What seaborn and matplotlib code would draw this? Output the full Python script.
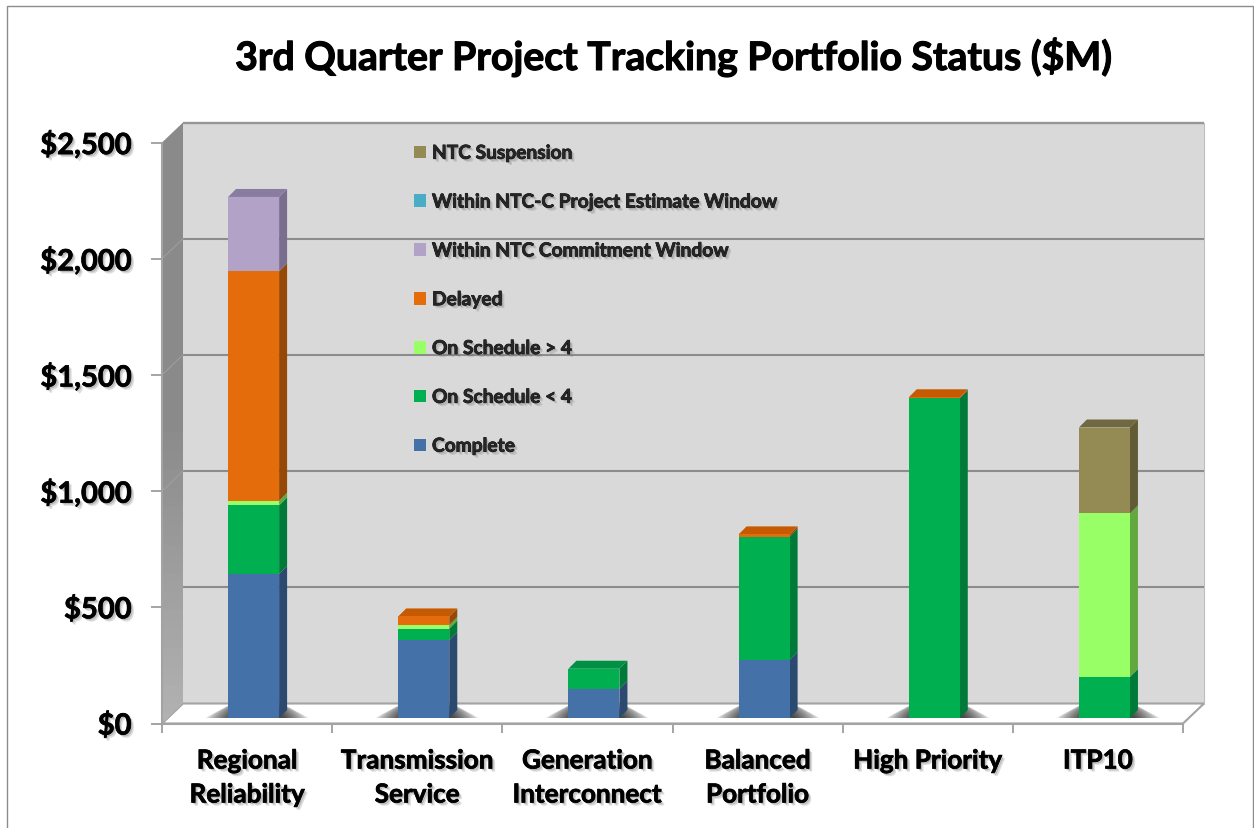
import numpy as np
import pandas as pd
import matplotlib
matplotlib.use("Agg")
import matplotlib.pyplot as plt
import matplotlib.patheffects as pe
from matplotlib.colors import LinearSegmentedColormap
from matplotlib.patches import Patch, Polygon, Rectangle
from matplotlib.transforms import Affine2D
import seaborn as sns

# data ($M)
categories = ["Regional\nReliability", "Transmission\nService", "Generation\nInterconnect",
              "Balanced\nPortfolio", "High Priority", "ITP10"]
complete = [620, 335, 125, 250, 0, 0]
on_sched_lt4 = [295, 50, 87, 530, 1375, 177]
on_sched_gt4 = [20, 15, 0, 0, 0, 703]
delayed = [987, 37, 0, 10, 5, 0]
within_commit = [320, 0, 0, 0, 0, 0]
within_est = [0, 0, 0, 0, 0, 0]
ntc_susp = [0, 0, 0, 0, 0, 370]

series_names = ["Complete", "On Schedule < 4", "On Schedule > 4", "Delayed",
                "Within NTC Commitment Window", "Within NTC-C Project Estimate Window",
                "NTC Suspension"]
series_vals = [complete, on_sched_lt4, on_sched_gt4, delayed, within_commit, within_est, ntc_susp]
front_cols = ["#4472a8", "#00b050", "#99ff66", "#e46c0a", "#b3a2c7", "#4bacc6", "#948a54"]
side_cols = ["#2c4a70", "#007a38", "#62a83f", "#964807", "#7a6e8f", "#2f7a8f", "#615b36"]
top_cols = ["#38608f", "#009044", "#7fd455", "#c55a00", "#8a7ca0", "#3b90a8", "#706840"]

W, H = 1254, 829
sns.set_theme(style="white")
plt.rcParams["font.family"] = ["Lato", "DejaVu Sans"]
plt.rcParams["font.weight"] = "bold"

fig = plt.figure(figsize=(W / 100, H / 100), dpi=100, facecolor="white")
ax = fig.add_axes([162 / W, 1 - 724.5 / H, 1021 / W, 581 / H])
ax.patch.set_visible(False)

# pixel -> data sizes
ux = 6 / 1021
uy = 2500 / 581
wall_dx, wall_dy = 21 * ux, 20 * uy
x0, x1 = -0.5, 5.5
grey = "#a3a3a3"
base_px = 5.5

df = pd.DataFrame(dict(zip(series_names, series_vals)))
df["cat"] = categories
cum = df[series_names].cumsum(axis=1)

# stacked look: tallest cumulative first, each lower series painted on top
bar_tf = Affine2D().translate(6.5, base_px)
for name, col in reversed(list(zip(series_names, front_cols))):
    sns.barplot(x=df["cat"], y=cum[name], color=col, saturation=1, width=0.3, ax=ax,
                order=categories, errorbar=None, zorder=4, linewidth=0,
                transform=ax.transData + bar_tf)

ax.set_xlim(x0, x1)
ax.set_ylim(0, 2500)
ax.set_xlabel("")
ax.set_ylabel("")

# back wall and floor
ax.add_patch(Rectangle((x0 + wall_dx, wall_dy), x1 - x0, 2500, fc="#d9d9d9", ec="none",
                       zorder=1, clip_on=False))
ax.plot([x0 + wall_dx, x1 + wall_dx], [2500 + wall_dy] * 2, color="#969696", lw=1.7, zorder=2,
        clip_on=False, solid_capstyle="butt")
ax.plot([x1 + wall_dx] * 2, [wall_dy, 2500 + wall_dy], color="#bdbdbd", lw=0.8, zorder=2, clip_on=False)
ax.add_patch(Polygon([(x0, 0), (x1, 0), (x1 + wall_dx, wall_dy), (x0 + wall_dx, wall_dy)],
                     fc="white", ec=grey, lw=1.5, zorder=1.5, clip_on=False))
# left wall with a gradient
wall = Polygon([(x0, 0), (x0 + wall_dx, wall_dy), (x0 + wall_dx, 2500 + wall_dy), (x0, 2500)],
               fc="none", ec="none", zorder=1.6, clip_on=False)
ax.add_patch(wall)
wall_cmap = LinearSegmentedColormap.from_list("w", ["#b2b2b2", "#8a8a8a", "#8a8a8a"])
im = ax.imshow(np.linspace(0, 1, 64).reshape(-1, 1), cmap=wall_cmap, origin="lower", aspect="auto",
               zorder=1.6, vmin=0, vmax=1, extent=(x0, x0 + wall_dx, 0, 2500 + wall_dy))
im.set_clip_box(fig.bbox)
im.set_clip_path(wall)

# gridlines on the back wall, small diagonals on the left wall
yticks = [0, 500, 1000, 1500, 2000, 2500]
for v in yticks[1:-1]:
    ax.plot([x0 + wall_dx, x1 + wall_dx], [v + wall_dy] * 2, color="#8c8c8c", lw=1.5, zorder=2,
            clip_on=False, solid_capstyle="butt")
    ax.plot([x0, x0 + wall_dx], [v, v + wall_dy], color="#a0a0a0", lw=0.7, zorder=2, clip_on=False)

# shadows at the foot of the bars, wedge shaped and fading outwards
sh = np.zeros((40, 160, 4))
yy, xx = np.mgrid[0:1:40j, -1:1:160j]
reach = np.clip((1 - np.abs(xx)) / 0.5, 0.001, 1)
sh[..., :3] = 0.2
sh[..., 3] = 0.9 * reach ** 0.7 * np.clip(1 - yy / reach, 0, 1) ** 0.25
for i in range(len(categories)):
    cx = i + 6.5 * ux + 3.5 * ux
    ax.imshow(sh, origin="lower", aspect="auto", zorder=2.5,
              extent=(cx - 52 * ux, cx + 52 * ux, base_px * uy, 19 * uy))

# side and top faces of the bars
bw, bd = 0.15, 8
for i in range(len(categories)):
    xr = i + 6.5 * ux + bw
    xl = i + 6.5 * ux - bw
    base = base_px * uy
    tops = cum.iloc[i].values
    low = 0
    top_col = None
    for j, name in enumerate(series_names):
        hi = tops[j]
        if hi > low:
            ax.add_patch(Polygon([(xr, low + base), (xr + bd * ux, low + base + bd * uy),
                                  (xr + bd * ux, hi + base + bd * uy), (xr, hi + base)],
                                 fc=side_cols[j], ec="none", zorder=3.5, clip_on=False))
            top_col = top_cols[j]
        low = hi
    ax.add_patch(Polygon([(xl, low + base), (xr, low + base), (xr + bd * ux, low + base + bd * uy),
                          (xl + bd * ux, low + base + bd * uy)], fc=top_col, ec="none",
                         zorder=3.5, clip_on=False))

ax.set_xlim(x0, x1)
ax.set_ylim(0, 2500)

# axes
for s in ["top", "right"]:
    ax.spines[s].set_visible(False)
for s in ["left", "bottom"]:
    ax.spines[s].set_color(grey)
    ax.spines[s].set_linewidth(1.5)
    ax.spines[s].set_zorder(2.2)
ax.set_yticks(yticks, [f"${v:,}" for v in yticks])
ax.tick_params(axis="y", length=8, width=1.1, color="#8c8c8c", pad=14, labelsize=21, left=True)
ax.set_xticks(range(len(categories)), categories)
ax.set_xticks(np.arange(x0, x1 + 0.1, 1), minor=True)
ax.tick_params(axis="x", which="major", length=0, pad=18, labelsize=18.8)
ax.tick_params(axis="x", which="minor", length=6.5, width=1.1, color="#8c8c8c", bottom=True)
shadow = [pe.SimplePatchShadow(offset=(2.2, -2.2), shadow_rgbFace="#777777", alpha=0.25),
          pe.SimplePatchShadow(offset=(1.2, -1.2), shadow_rgbFace="#777777", alpha=0.35),
          pe.Stroke(linewidth=0.5, foreground="black"), pe.Normal()]
for t in ax.get_xticklabels() + ax.get_yticklabels():
    t.set_fontweight("bold")
    t.set_color("black")
    t.set_linespacing(1.5)
    t.set_path_effects(shadow)

# legend
handles = [Patch(fc=c, ec="none") for c in front_cols[::-1]]
leg = fig.legend(handles, series_names[::-1], loc="upper left", frameon=False,
                 bbox_to_anchor=(408 / W, 1 - 140 / H), bbox_transform=fig.transFigure,
                 fontsize=13.8, labelspacing=1.66, handlelength=0.65, handleheight=0.65,
                 handletextpad=0.3, borderpad=0.3, borderaxespad=0)
for t in leg.get_texts():
    t.set_fontweight("bold")
    t.set_path_effects(shadow)

title = fig.text(673 / W, 1 - 58 / H, "3rd Quarter Project Tracking Portfolio Status ($M)",
                 ha="center", va="center", fontsize=28.2, fontweight="bold", color="black")
title.set_path_effects([pe.Stroke(linewidth=0.8, foreground="black"), pe.Normal()])

# outer border, open at the bottom of the picture
fig.add_artist(Rectangle((7 / W, -0.01), (W - 8) / W, 1 - 7 / H + 0.01, fill=False,
                         ec="#8c8c8c", lw=1.0, transform=fig.transFigure))

fig.savefig("out.png", dpi=100)
